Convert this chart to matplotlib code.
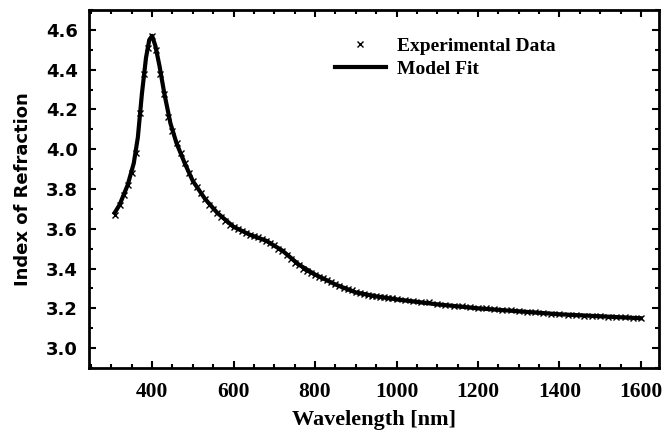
import matplotlib.pyplot as plt
from matplotlib.ticker import MultipleLocator

exp_wl = [310, 320, 330, 340, 350, 360, 370, 380, 390, 400,
          410, 420, 430, 440, 450, 460, 470, 480, 490, 500,
          510, 520, 530, 540, 550, 560, 570, 580, 590, 600,
          610, 620, 630, 640, 650, 660, 670, 680, 690, 700,
          710, 720, 730, 740, 750, 760, 770, 780, 790, 800,
          810, 820, 830, 840, 850, 860, 870, 880, 890, 900,
          910, 920, 930, 940, 950, 960, 970, 980, 990, 1000,
          1020, 1040, 1060, 1080, 1100, 1120, 1140, 1160, 1180, 1200,
          1220, 1240, 1260, 1280, 1300, 1320, 1340, 1360, 1380, 1400,
          1420, 1440, 1460, 1480, 1500, 1520, 1540, 1560, 1580, 1600]
exp_n = [3.67, 3.72, 3.77, 3.82, 3.88, 3.98, 4.18, 4.38, 4.51, 4.57,
         4.50, 4.38, 4.28, 4.16, 4.09, 4.03, 3.98, 3.93, 3.88, 3.84,
         3.81, 3.78, 3.75, 3.72, 3.70, 3.68, 3.66, 3.64, 3.62, 3.61,
         3.60, 3.59, 3.58, 3.57, 3.565, 3.56, 3.55, 3.54, 3.53, 3.52,
         3.50, 3.49, 3.47, 3.45, 3.43, 3.42, 3.40, 3.39, 3.38, 3.37,
         3.36, 3.35, 3.34, 3.33, 3.32, 3.31, 3.30, 3.295, 3.29, 3.28,
         3.275, 3.27, 3.265, 3.26, 3.26, 3.255, 3.255, 3.25, 3.25, 3.245,
         3.24, 3.235, 3.23, 3.23, 3.22, 3.215, 3.21, 3.21, 3.205, 3.20,
         3.20, 3.195, 3.19, 3.19, 3.185, 3.18, 3.18, 3.175, 3.17, 3.17,
         3.165, 3.165, 3.16, 3.16, 3.16, 3.155, 3.155, 3.155, 3.15, 3.15]

# model fit
fit_wl = [308, 320, 340, 355, 365, 375, 385, 393, 400, 408, 418, 430,
          445, 460, 480, 500, 530, 560, 600, 640, 680, 720, 760, 800,
          850, 900, 950, 1000, 1100, 1200, 1300, 1400, 1500, 1600]
fit_n = [3.68, 3.72, 3.82, 3.93, 4.06, 4.28, 4.46, 4.55, 4.57, 4.52, 4.42, 4.28,
         4.13, 4.03, 3.93, 3.84, 3.75, 3.68, 3.61, 3.57, 3.54, 3.49, 3.42, 3.37,
         3.32, 3.28, 3.26, 3.245, 3.22, 3.20, 3.185, 3.17, 3.16, 3.15]

plt.rcParams['font.family'] = 'Liberation Serif'
plt.rcParams['font.weight'] = 'bold'

fig = plt.figure(figsize=(6.67, 4.36), dpi=100)
ax = fig.add_axes([0.1334, 0.156, 0.855, 0.821])

ax.plot(exp_wl, exp_n, ls='none', marker='x', ms=5, mew=1.0, color='k',
        label='Experimental Data')
ax.plot(fit_wl, fit_n, lw=3.0, color='k', label='Model Fit')

ax.set_xlim(245, 1645)
ax.set_ylim(2.9, 4.7)
ax.xaxis.set_major_locator(MultipleLocator(200))
ax.xaxis.set_minor_locator(MultipleLocator(50))
ax.yaxis.set_major_locator(MultipleLocator(0.2))
ax.yaxis.set_minor_locator(MultipleLocator(0.1))
ax.yaxis.set_major_formatter(plt.FormatStrFormatter('%.1f'))
ax.tick_params(which='both', direction='in', top=True, right=True, width=1.5)
ax.tick_params(which='major', length=5)
ax.tick_params(which='minor', length=3)
ax.tick_params(axis='x', labelsize=15.5, pad=10)
ax.tick_params(axis='y', pad=8)
for lab in ax.get_yticklabels():
    lab.set_family('DejaVu Sans')
    lab.set_fontsize(13)
for s in ax.spines.values():
    s.set_linewidth(2)

ax.set_xlabel('Wavelength [nm]', fontsize=16, fontweight='bold', labelpad=6)
ax.set_ylabel('Index of Refraction', fontsize=13, fontweight='bold',
              family='DejaVu Sans', labelpad=10)

ax.legend(loc='upper left', bbox_to_anchor=(335 / 667, 1 - 37 / 436),
          bbox_transform=fig.transFigure, frameon=False, fontsize=14,
          borderpad=0, borderaxespad=0, handlelength=2.6, handletextpad=0.6,
          labelspacing=0.3)

plt.savefig('out.png', dpi=100)
